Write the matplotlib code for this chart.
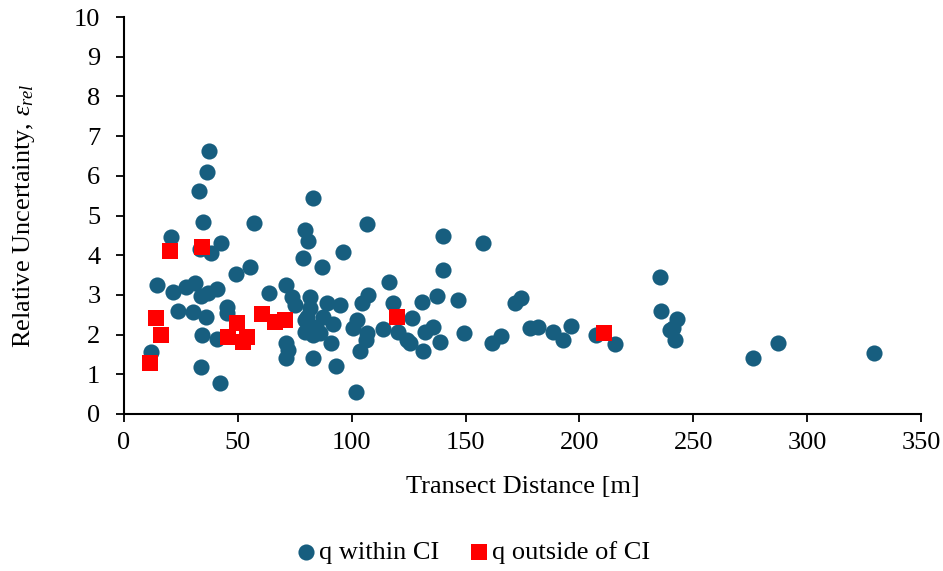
import matplotlib
matplotlib.use("Agg")
import matplotlib.pyplot as plt

plt.rcParams['font.family'] = ['Liberation Serif', 'DejaVu Serif']
plt.rcParams['mathtext.fontset'] = 'custom'
plt.rcParams['mathtext.rm'] = 'Liberation Serif'
plt.rcParams['mathtext.it'] = 'Liberation Serif:italic'

# Transect distance [m] and relative uncertainty for discharges inside the CI
within_x = [11.9, 14.3, 20.5, 21.4, 23.6, 27.2, 31.2, 30.4, 33.1, 34.8, 36.3, 37.4,
            33.4, 38.2, 42.4, 33.8, 37.0, 41.0, 36.0, 34.1, 33.7, 41.0, 42.1, 45.1,
            45.3, 49.2, 55.3, 57.0, 63.6, 71.1, 73.6, 75.1, 71.1, 72.1, 71.1, 79.5,
            80.6, 78.7, 83.1, 86.8, 96.0, 106.5, 81.7, 89.0, 94.8, 80.2, 87.5, 91.9,
            79.5, 83.1, 86.0, 82.8, 90.9, 93.1, 101.8, 102.1, 100.7, 103.6, 104.3,
            107.2, 106.5, 106.2, 113.8, 116.5, 118.2, 120.4, 126.3, 125.5, 124.1,
            130.7, 132.1, 135.8, 131.4, 137.3, 138.7, 139.9, 139.9, 146.8, 149.4,
            157.7, 161.8, 165.4, 171.6, 174.3, 178.2, 181.9, 188.5, 192.9, 196.2,
            207.2, 215.8, 235.4, 236.0, 242.9, 239.7, 241.1, 241.9, 276.0, 287.0,
            329.2, 81.7, 84.5, 79.5]
within_y = [1.57, 3.24, 4.45, 3.07, 2.59, 3.21, 3.29, 2.58, 5.61, 4.85, 6.11, 6.62,
            4.15, 4.06, 4.30, 2.98, 3.04, 3.16, 2.44, 1.98, 1.19, 1.88, 0.79, 2.70,
            2.55, 3.52, 3.71, 4.80, 3.06, 3.25, 2.96, 2.75, 1.78, 1.61, 1.40, 4.63,
            4.37, 3.92, 5.45, 3.71, 4.09, 4.78, 2.96, 2.79, 2.75, 2.45, 2.45, 2.27,
            2.07, 1.99, 2.03, 1.40, 1.80, 1.22, 0.55, 2.37, 2.16, 1.59, 2.79,
            3.00, 2.03, 1.86, 2.14, 3.33, 2.79, 2.07, 2.41, 1.78, 1.86,
            2.83, 2.07, 2.20, 1.59, 2.97, 1.82, 4.49, 3.63, 2.87, 2.03,
            4.30, 1.78, 1.96, 2.79, 2.91, 2.16, 2.20, 2.07, 1.86, 2.22,
            1.99, 1.76, 3.46, 2.60, 2.39, 2.12, 2.16, 1.86, 1.40, 1.78,
            1.53, 2.66, 2.20, 2.37]

# Discharges outside the CI
outside_x = [11.4, 14.0, 16.1, 20.2, 34.4, 45.8, 49.5, 52.1, 53.9, 60.4, 66.3, 70.7,
             120.1, 210.8]
outside_y = [1.29, 2.43, 1.98, 4.11, 4.21, 1.95, 2.30, 1.82, 1.93, 2.51, 2.32, 2.37,
             2.45, 2.05]

x_ticks = [0, 50, 100, 150, 200, 250, 300, 350]
y_ticks = [0, 1, 2, 3, 4, 5, 6, 7, 8, 9, 10]

blue = '#175E7F'
red = '#FF0000'
fs = 19

fig = plt.figure(figsize=(9.43, 5.71), dpi=100)
ax = fig.add_axes([0.1315, 0.275, 0.8452, 0.695])

ax.scatter(within_x, within_y, s=135, marker='o', color=blue, linewidths=0,
           label='q within CI', zorder=2)
ax.scatter(outside_x, outside_y, s=135, marker='s', color=red, linewidths=0,
           label='q outside of CI', zorder=3)

ax.set_xlim(0, 350)
ax.set_ylim(0, 10)
ax.set_xticks(x_ticks)
ax.set_yticks(y_ticks)
ax.tick_params(axis='both', direction='out', length=6, width=1.3, labelsize=fs,
               colors='black')
ax.tick_params(axis='x', pad=7)
ax.tick_params(axis='y', pad=11)
for side in ('top', 'right'):
    ax.spines[side].set_visible(False)
for side in ('left', 'bottom'):
    ax.spines[side].set_linewidth(1.5)
    ax.spines[side].set_color('black')

ax.set_xlabel('Transect Distance [m]', fontsize=fs, labelpad=16)
ax.set_ylabel(r'Relative Uncertainty, $\varepsilon_{rel}$', fontsize=fs, labelpad=27)

leg = fig.legend(loc='center', bbox_to_anchor=(0.5, 0.033), ncol=2, frameon=False,
                 fontsize=fs, handletextpad=0.0, columnspacing=1.0,
                 markerscale=1.0, handlelength=1.0)

fig.savefig('out.png', dpi=100)
